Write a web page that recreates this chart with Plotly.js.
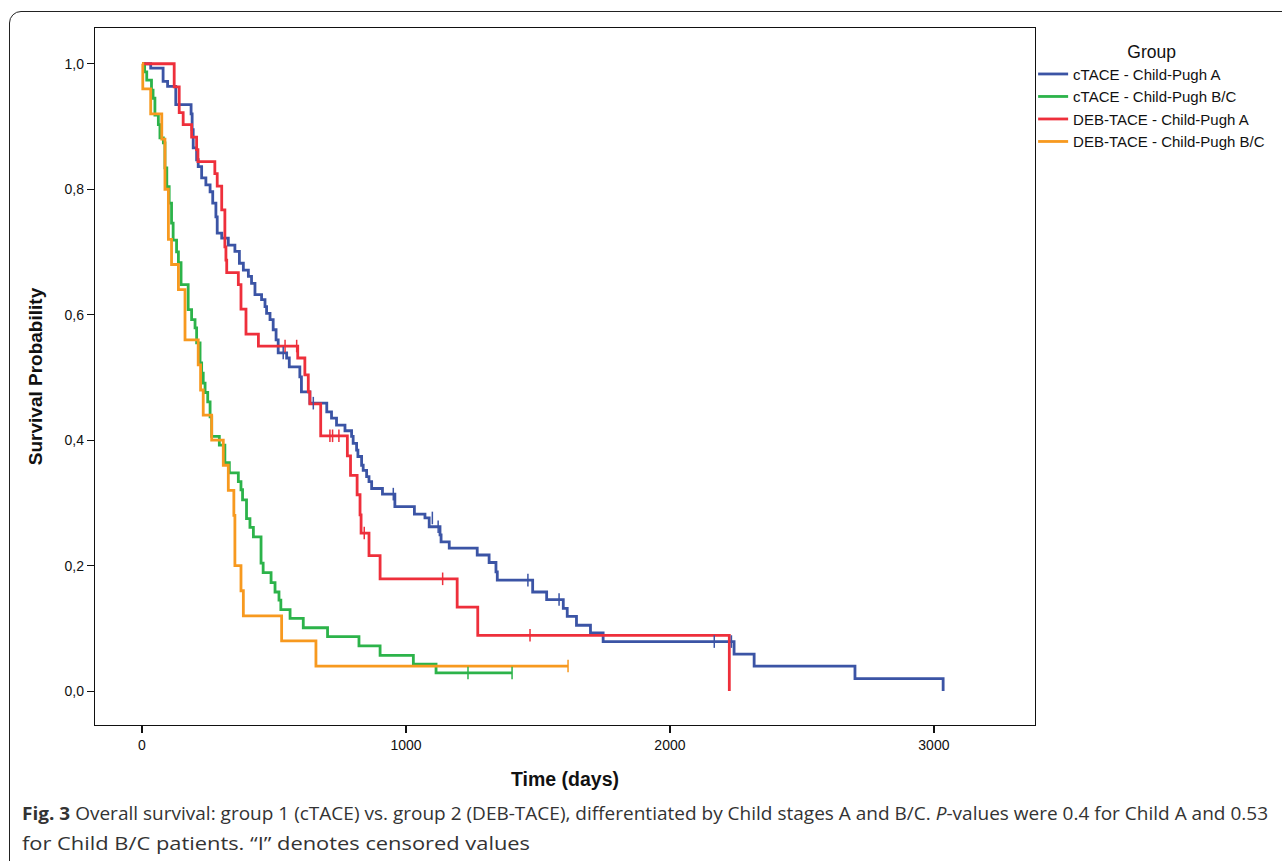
<!DOCTYPE html>
<html>
<head>
<meta charset="utf-8">
<script src="https://cdn.plot.ly/plotly-3.0.1.min.js"></script>
<style>
  html, body { margin:0; padding:0; background:#fff; overflow:hidden; }
  #wrap { position:relative; width:1282px; height:861px; overflow:hidden; }
  #frame { position:absolute; left:9px; top:11px; width:1300px; height:900px; border:1.5px solid #222; border-radius:12px; box-sizing:border-box; }
  #plot { position:absolute; left:0; top:0; width:1282px; height:861px; }
  #caption { position:absolute; left:22px; top:798px; font-family:"Open Sans", sans-serif; font-size:17.5px; color:#333; }
  .cap { white-space:nowrap; transform-origin:0 0; height:30px; line-height:30px; width:max-content; }
</style>
</head>
<body>
<div id="wrap">
  <div id="frame"></div>
  <div id="plot"></div>
  <div id="caption">
    <div class="cap" id="cap1"><b>Fig. 3</b> Overall survival: group 1 (cTACE) vs. group 2 (DEB-TACE), differentiated by Child stages A and B/C. <i>P</i>-values were 0.4 for Child A and 0.53</div>
    <div class="cap" id="cap2">for Child B/C patients. “I” denotes censored values</div>
  </div>
</div>
<script>
// ---- Data ----
const seriesNames = ["cTACE - Child-Pugh A", "cTACE - Child-Pugh B/C", "DEB-TACE - Child-Pugh A", "DEB-TACE - Child-Pugh B/C"];
const seriesColors = ["#3b54a5", "#2cb34a", "#ee2f3b", "#f7991f"];

// cTACE - Child-Pugh A
const cA_t = [0,33,80,97,128,186,190,194,207,213,226,242,258,268,280,285,302,327,352,369,384,403,415,428,453,466,472,485,497,508,516,548,558,598,604,636,700,718,737,769,794,800,813,818,832,838,851,860,870,911,958,1032,1072,1088,1129,1133,1164,1270,1315,1341,1346,1480,1533,1596,1611,1646,1699,1747,2243,2319,2701,3035];
const cA_s = [1.0,0.993,0.972,0.964,0.935,0.92,0.895,0.866,0.847,0.836,0.818,0.807,0.796,0.778,0.756,0.730,0.722,0.711,0.701,0.682,0.671,0.661,0.650,0.632,0.624,0.613,0.602,0.592,0.576,0.560,0.539,0.531,0.517,0.501,0.477,0.459,0.445,0.435,0.424,0.415,0.406,0.395,0.384,0.374,0.360,0.352,0.342,0.334,0.323,0.314,0.294,0.282,0.276,0.262,0.249,0.238,0.228,0.217,0.205,0.190,0.177,0.158,0.146,0.132,0.119,0.105,0.093,0.079,0.059,0.040,0.020,0.0];
const cA_censT = [535,649,952,1100,1122,1462,1580,2168,2233];
const cA_censS = [0.539,0.459,0.314,0.276,0.262,0.177,0.146,0.079,0.079];

// cTACE - Child-Pugh B/C
const cBC_t = [0,10,18,36,42,49,62,68,81,87,94,103,112,118,131,138,148,175,188,201,207,220,226,232,239,249,258,264,293,314,331,365,375,381,396,409,422,451,459,489,504,519,526,561,611,703,822,902,1028,1114,1402];
const cBC_s = [1.0,0.987,0.974,0.958,0.945,0.918,0.903,0.882,0.874,0.834,0.804,0.778,0.746,0.719,0.700,0.683,0.648,0.608,0.592,0.579,0.555,0.523,0.507,0.491,0.476,0.461,0.437,0.406,0.392,0.364,0.348,0.334,0.321,0.305,0.275,0.261,0.246,0.204,0.189,0.173,0.158,0.145,0.130,0.116,0.101,0.087,0.072,0.057,0.043,0.029,0.029];
const cBC_censT = [1235,1402];
const cBC_censS = [0.029,0.029];

// DEB-TACE - Child-Pugh A
const dA_t = [0,122,141,156,188,207,212,276,285,302,314,318,321,365,375,394,441,590,617,630,636,677,778,790,815,826,830,860,902,1194,1272,2225];
const dA_s = [1.0,0.963,0.922,0.903,0.883,0.863,0.844,0.825,0.805,0.767,0.708,0.687,0.667,0.648,0.609,0.569,0.550,0.531,0.504,0.477,0.458,0.407,0.375,0.344,0.313,0.281,0.252,0.216,0.179,0.134,0.089,0.0];
const dA_censT = [542,586,712,722,746,842,1139,1470];
const dA_censS = [0.550,0.550,0.407,0.407,0.407,0.252,0.179,0.089];

// DEB-TACE - Child-Pugh B/C
const dBC_t = [0,3,33,75,87,100,112,138,163,213,222,232,264,308,327,348,352,375,384,529,659,1614];
const dBC_s = [1.0,0.96,0.92,0.88,0.80,0.72,0.68,0.64,0.56,0.52,0.48,0.44,0.40,0.36,0.32,0.28,0.20,0.16,0.12,0.08,0.04,0.04];
const dBC_censT = [1614];
const dBC_censS = [0.04];

const xTickVals = [0,1000,2000,3000];
const xTickText = ["0","1000","2000","3000"];
const yTickVals = [0,0.2,0.4,0.6,0.8,1.0];
const yTickText = ["0,0","0,2","0,4","0,6","0,8","1,0"];

// ---- Build traces ----
const curves = [[cA_t,cA_s],[cBC_t,cBC_s],[dA_t,dA_s],[dBC_t,dBC_s]];
const cens = [[cA_censT,cA_censS],[cBC_censT,cBC_censS],[dA_censT,dA_censS],[dBC_censT,dBC_censS]];
const traces = [];
curves.forEach((c,i)=>{
  traces.push({x:c[0], y:c[1], type:'scatter', mode:'lines', name:seriesNames[i],
    line:{shape:'hv', color:seriesColors[i], width:2.8}, hoverinfo:'skip'});
});
cens.forEach((c,i)=>{
  traces.push({x:c[0], y:c[1], type:'scatter', mode:'markers', showlegend:false,
    marker:{symbol:'line-ns-open', size:9, color:seriesColors[i], line:{color:seriesColors[i], width:1.5}}, hoverinfo:'skip'});
});

const font = "Liberation Sans, Arial, sans-serif";
const layout = {
  width:1282, height:861,
  paper_bgcolor:'rgba(0,0,0,0)', plot_bgcolor:'#fff',
  margin:{l:95, r:247, t:28, b:136, autoexpand:false},
  font:{family:font, size:14, color:'#111'},
  showlegend:true,
  legend:{x:0.998, xanchor:'left', y:0.99, yanchor:'top', bgcolor:'rgba(0,0,0,0)',
    font:{family:font, size:15, color:'#111'}, tracegroupgap:0, itemwidth:30,
    title:{text:'Group', side:'top center', font:{family:font, size:17.5, color:'#111'}}},
  xaxis:{range:[-178,3383], tickvals:xTickVals, ticktext:xTickText, ticks:'outside', ticklen:7, tickwidth:1.2, tickcolor:'#111',
    showgrid:false, zeroline:false, showline:true, linecolor:'#111', linewidth:1.2, mirror:true,
    tickfont:{family:font, size:14, color:'#111'},
    title:{text:'<b>Time (days)</b>', font:{family:font, size:19.5, color:'#111'}, standoff:20}},
  yaxis:{range:[-0.054,1.057], tickvals:yTickVals, ticktext:yTickText, ticks:'outside', ticklen:7, tickwidth:1.2, tickcolor:'#111',
    showgrid:false, zeroline:false, showline:true, linecolor:'#111', linewidth:1.2, mirror:true,
    tickfont:{family:font, size:14, color:'#111'},
    title:{text:'<b>Survival Probability</b>', font:{family:font, size:19, color:'#111'}, standoff:16}}
};
Plotly.newPlot('plot', traces, layout, {staticPlot:true, displayModeBar:false});

// fit caption line widths to reference
function fit(id, target){
  const el = document.getElementById(id);
  const w = el.getBoundingClientRect().width;
  if (w>0) el.style.transform = 'scaleX(' + (target/w) + ')';
}
fit('cap1', 1246);
fit('cap2', 508);
</script>
</body>
</html>
